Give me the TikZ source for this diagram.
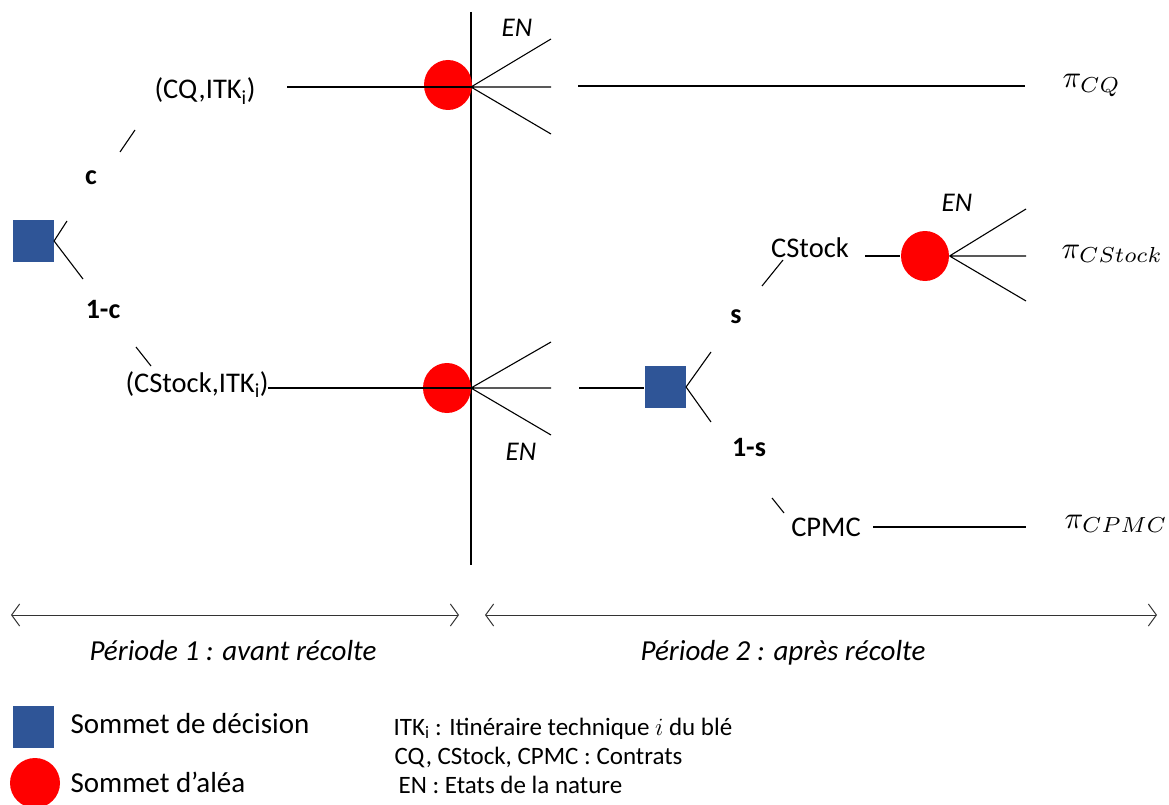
\documentclass[tikz,border=0pt]{standalone}
\usepackage{graphicx}
\usepackage{fontspec}
\setmainfont{Carlito}
\usetikzlibrary{arrows.meta,shapes.geometric}
\definecolor{decblue}{RGB}{47,85,151}
\definecolor{chred}{RGB}{255,0,0}
\newcommand{\payoff}[1]{\scalebox{3.1}{$\pi_{#1}$}}
\begin{document}
\begin{tikzpicture}[x=1pt,y=-1pt,
  line width=1.1pt,
  decision/.style={rectangle,fill=decblue,minimum width=41pt,minimum height=42pt,inner sep=0},
  chance/.style={ellipse,fill=chred,minimum width=48pt,minimum height=50pt,inner sep=0},
  lbl/.style={font=\fontsize{28.5}{32}\selectfont,inner sep=0,anchor=base},
  prob/.style={font=\fontsize{28}{32}\selectfont\bfseries,inner sep=0},
  en/.style={font=\fontsize{27}{31}\selectfont\itshape,inner sep=0},
  pay/.style={inner sep=0,anchor=base west},
  period/.style={font=\fontsize{29}{33}\selectfont\itshape,inner sep=0,anchor=base},
  legend/.style={font=\fontsize{29}{33}\selectfont,inner sep=0,anchor=base west},
  key/.style={font=\fontsize{25}{29}\selectfont,inner sep=0,anchor=base west},
  span/.style={{Straight Barb[length=8pt,width=22pt]}-{Straight Barb[length=8pt,width=22pt]},line width=1pt,black!80}
]
\useasboundingbox (0,0) rectangle (1169,805);

% border between the two periods
\coordinate (vtop) at (471,12);
\coordinate (vbot) at (471,565);
\draw (vtop) -- (vbot);

% ---------- period 1 ----------
\node[decision] (d1) at (33,241) {};
\node[prob] (pc) at (91,178) {c};
\node[prob] (p1c) at (103,310) {1-c};
\node[lbl] (tcq) at (205,99) {(CQ,ITK\textsubscript{i})};
\node[lbl] (tcs) at (197,392) {(CStock,ITK\textsubscript{i})};
\node[chance] (n1) at (448,85) {};
\node[chance] (n2) at (447,388) {};

\coordinate (d1u) at (67,221);
\coordinate (d1d) at (83,279);
\draw (d1.east) -- (d1u);
\draw (d1.east) -- (d1d);
\coordinate (cqa) at (120,152);
\coordinate (cqb) at (135,130);
\draw (cqa) -- (cqb);
\coordinate (csa) at (136,347);
\coordinate (csb) at (151,366);
\draw (csa) -- (csb);

\coordinate (tcqe) at (287,87);
\draw (tcqe) -- (n1.east |- tcqe);
\coordinate (tcse) at (268,388);
\draw (tcse) -- (n2.east |- tcse);

% states of nature after the first chance nodes
\coordinate (h1) at (471,87);
\coordinate (n1a) at (551,39);
\coordinate (n1b) at (551,87);
\coordinate (n1c) at (551,134);
\draw (h1) -- (n1a) (h1) -- (n1b) (h1) -- (n1c);
\node[en] (en1) at (517,28) {EN};

\coordinate (h2) at (471,388);
\coordinate (n2a) at (551,342);
\coordinate (n2b) at (551,388);
\coordinate (n2c) at (551,435);
\draw (h2) -- (n2a) (h2) -- (n2b) (h2) -- (n2c);
\node[en] (en2) at (521,452) {EN};

% ---------- period 2 ----------
\coordinate (cqs) at (578,86);
\coordinate (cqe) at (1025,86);
\draw (cqs) -- (cqe);
\node[pay] (picq) at (1062,88) {\payoff{CQ}};

\node[decision] (d2) at (665,387) {};
\coordinate (d2in) at (579,388);
\draw (d2in) -- (d2.west |- d2in);
\coordinate (d2u) at (711,352);
\coordinate (d2d) at (711,422);
\draw (d2.east) -- (d2u);
\draw (d2.east) -- (d2d);
\node[prob] (ps) at (736,317) {s};
\node[prob] (p1s) at (749,448) {1-s};

\coordinate (ssa) at (762,286);
\coordinate (ssb) at (783,260);
\draw (ssa) -- (ssb);
\node[lbl] (tcst) at (810,257) {CStock};
\node[chance] (n3) at (925,256) {};
\coordinate (n3in) at (865,256);
\draw (n3in) -- (n3.west);
\coordinate (n3a) at (1026,209);
\coordinate (n3b) at (1026,256);
\coordinate (n3c) at (1026,301);
\draw (n3.east) -- (n3a) (n3.east) -- (n3b) (n3.east) -- (n3c);
\node[en] (en3) at (957,203) {EN};
\node[pay] (picst) at (1061,258) {\payoff{CStock}};

\coordinate (cpa) at (772,498);
\coordinate (cpb) at (784,513);
\draw (cpa) -- (cpb);
\node[lbl] (tcp) at (826,536) {CPMC};
\coordinate (cps) at (873,527);
\coordinate (cpe) at (1026,527);
\draw (cps) -- (cpe);
\node[pay] (picp) at (1064,528) {\payoff{CPMC}};

% ---------- time axis ----------
\coordinate (l1) at (11,615);
\coordinate (r1) at (459,615);
\coordinate (l2) at (485,615);
\coordinate (r2) at (1157,615);
\draw[span] (l1) -- (r1);
\draw[span] (l2) -- (r2);
\node[period] (per1) at (233,660) {Période 1 : avant récolte};
\node[period] (per2) at (783,660) {Période 2 : après récolte};

% ---------- legend ----------
\node[decision] (kd) at (33,727) {};
\node[chance,minimum width=50pt,minimum height=50pt] (kc) at (35,783) {};
\node[legend] (kdt) at (70,733) {Sommet de décision};
\node[legend] (kct) at (70,792) {Sommet d’aléa};
\node[key] (k1) at (393,735) {ITK\textsubscript{i} : Itinéraire technique $i$ du blé};
\node[key] (k2) at (394,764) {CQ, CStock, CPMC : Contrats};
\node[key] (k3) at (398,793) {EN : Etats de la nature};
\end{tikzpicture}
\end{document}
